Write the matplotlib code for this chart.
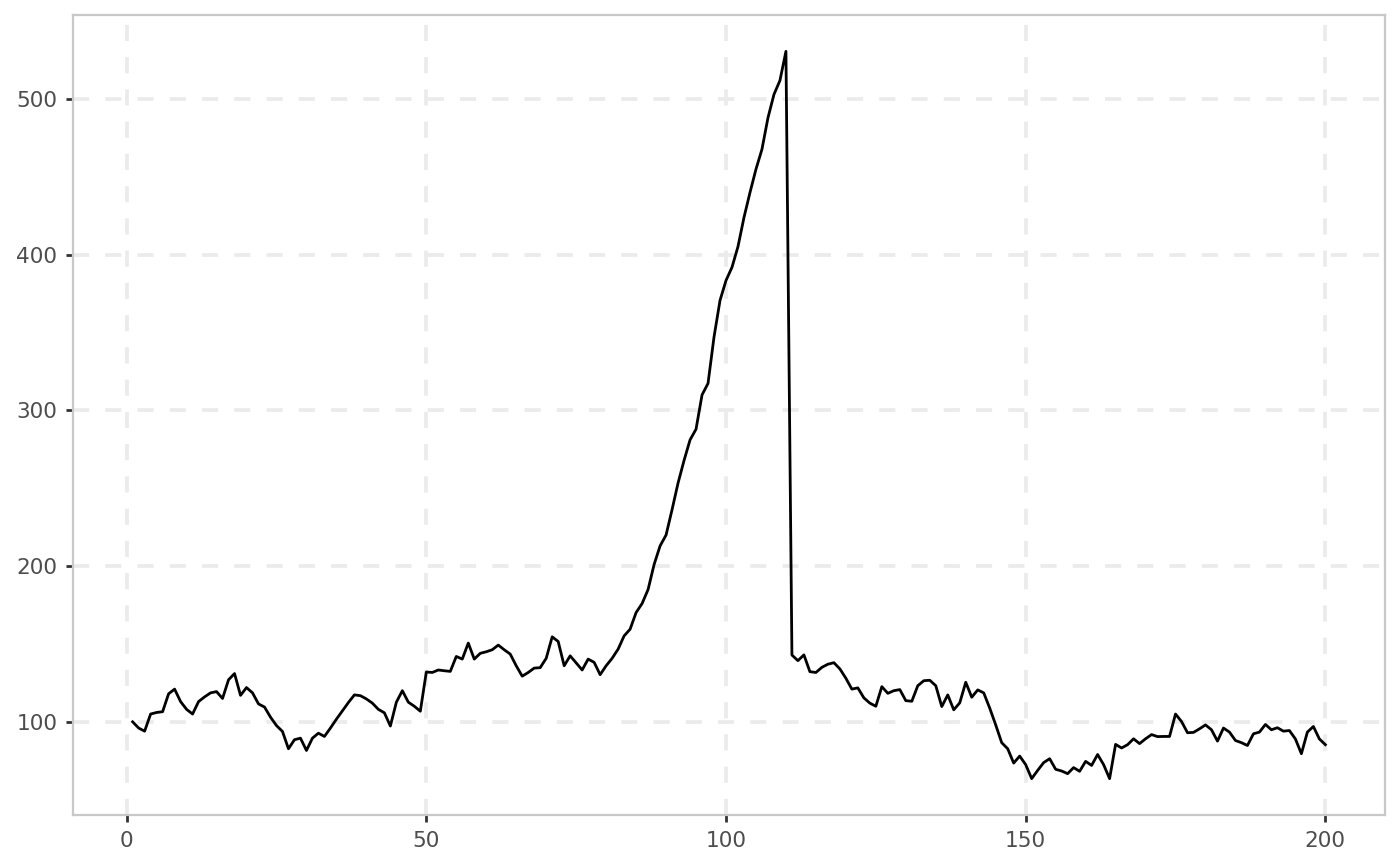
import matplotlib
matplotlib.use('Agg')
from matplotlib import pyplot as plt

# Data #
x = list(range(1, 201))
y = [
    100, 96, 94, 105, 106, 106.5, 118, 121, 113, 108,
    105, 113, 116, 118.6, 119.4, 115, 127, 131, 117, 122,
    118.6, 111.5, 109.5, 103, 97.6, 93.8, 82.7, 88.5, 89.5, 81.6,
    89.5, 92.7, 90.6, 96, 101.7, 107, 112.4, 117.3, 116.8, 114.7,
    112, 108, 105.8, 97.3, 112.6, 120, 112.6, 110, 106.8, 132,
    131.7, 133.3, 132.8, 132.4, 142, 140.3, 150.6, 140.3, 144, 145,
    146.3, 149.3, 146.3, 143.5, 136, 129.3, 131.7, 134.5, 134.8, 140.8,
    154.6, 151.6, 136, 142.4, 137.8, 133.3, 140.3, 138.2, 130.3, 136,
    140.8, 146.7, 155.2, 159.5, 170.2, 176, 185, 201, 213, 220,
    236.3, 253.4, 267.9, 281.1, 288, 310, 317.4, 347.2, 370.7, 383.5,
    392, 405.3, 424, 440, 455, 467.8, 488, 503, 512, 530.7,
    142.9, 139.3, 143, 132.2, 131.7, 135, 137, 138, 134, 128,
    121, 121.8, 115.4, 112, 110, 122.6, 118.3, 120, 120.7, 113.6,
    113.2, 123.2, 126.4, 126.7, 123.2, 109.8, 117.3, 107.7, 112.2, 125.4,
    115.8, 120.5, 118.6, 108.8, 98, 86.6, 82.7, 73.5, 78, 72.5,
    63.5, 68.8, 73.8, 76.3, 69.5, 68.4, 66.7, 70.6, 68.2, 74.6,
    72, 79, 72.5, 63.5, 85.5, 83.2, 85.3, 89.1, 86, 89.1,
    91.8, 90.5, 90.6, 90.6, 105, 100.2, 93, 93.2, 95.5, 98,
    94.9, 87.6, 96, 93.4, 88, 86.6, 84.8, 92.3, 93.4, 98.3,
    94.9, 96.2, 94, 94.4, 89, 79.5, 93.4, 97, 89, 85.3,
]
x_ticks = [0, 50, 100, 150, 200]
y_ticks = [100, 200, 300, 400, 500]

# Plot #
fig = plt.figure(figsize=(7.0, 4.33), dpi=200)
ax = fig.add_axes([73 / 1400, 1 - 815 / 866, 1312 / 1400, 800 / 866])

ax.plot(x, y, color='black', linewidth=1.0, zorder=3)

# Axes limits (ggplot style 5% expansion) #
xr = max(x) - min(x)
yr = max(y) - min(y)
ax.set_xlim(min(x) - 0.05 * xr, max(x) + 0.05 * xr)
ax.set_ylim(min(y) - 0.05 * yr, max(y) + 0.05 * yr)

ax.set_xticks(x_ticks)
ax.set_yticks(y_ticks)

# Grid #
ax.grid(True, color='#EBEBEB', linewidth=1.35, linestyle=(0, (4.3, 4.3)), zorder=0)
ax.set_axisbelow(True)

# Frame and ticks #
for s in ax.spines.values():
    s.set_color('#C8C8C8')
    s.set_linewidth(0.8)
ax.tick_params(axis='both', colors='#333333', length=2.6, width=1.0,
               labelsize=7.8, labelcolor='#4D4D4D', pad=3)

fig.savefig('out.png', dpi=200, facecolor='white')
